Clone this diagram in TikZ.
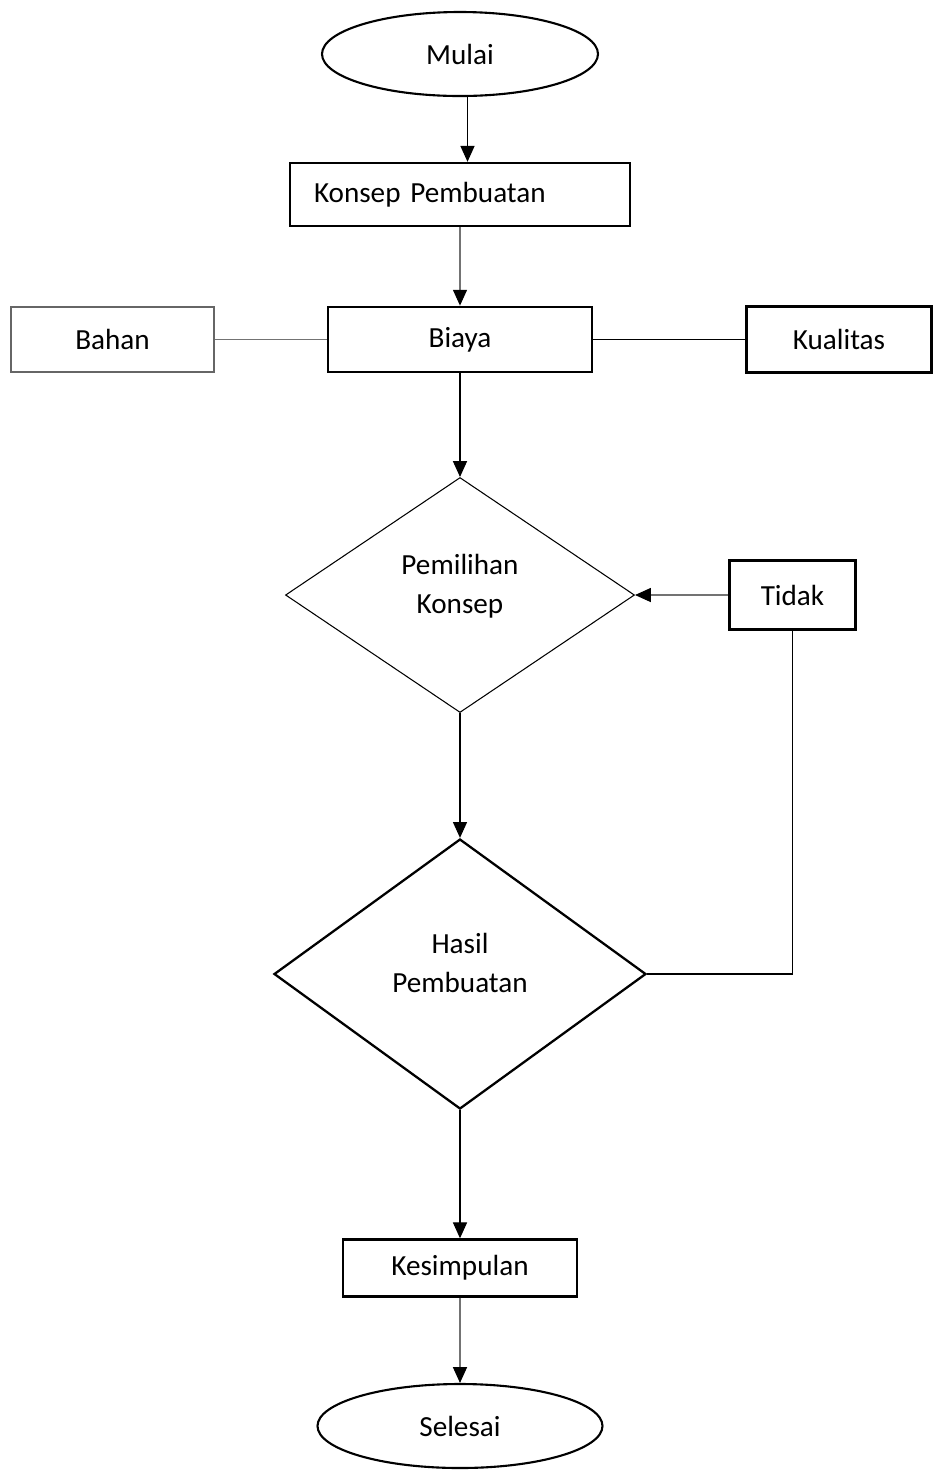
\documentclass[tikz,border=0pt]{standalone}
\usepackage{fontspec}
\setmainfont{Carlito}
\usepackage{tikz}
\usetikzlibrary{shapes,arrows.meta,positioning,calc}
\tikzset{
box/.style = {draw, fill=white, rectangle, line width=1.6pt, minimum height=1.3cm},
thinbox/.style = {draw=black!60, fill=white, rectangle, line width=0.6pt, minimum height=1.3cm},
terminal/.style = {draw, fill=white, ellipse, line width=1.2pt, minimum width=5.6cm, minimum height=1.68cm},
decision/.style = {draw, fill=white, diamond, align=center, text depth=0.45cm},
line/.style = {line width=0.6pt},
greyline/.style = {line width=0.6pt, draw=black!55},
every node/.style = {font=\fontsize{16.6}{22}\selectfont}
}
\begin{document}
\begin{tikzpicture}[auto, node distance=2cm, >={Triangle[length=9pt,width=8pt,color=black]}]
  \useasboundingbox (0,0) rectangle (18.72,-29.4);
  \node [terminal, minimum width=5.52cm]                                  (mulai)      at (9.2,-1.08) {Mulai};
  \node [box, below of=mulai, node distance=2.81cm, minimum width=6.8cm, minimum height=1.26cm,
         text width=5.84cm, inner xsep=0.48cm, align=left, line width=1.4pt] (konsep)   {Konsep Pembuatan};
  \node [box, below of=konsep, node distance=2.9cm, minimum width=5.28cm]  (biaya)     {Biaya};
  \node [thinbox, left of=biaya, node distance=6.95cm, minimum width=4.06cm] (bahan)   {Bahan};
  \node [box, right of=biaya, node distance=7.58cm, minimum width=3.7cm, minimum height=1.32cm] (kualitas) {Kualitas};
  \node [decision, below of=biaya, node distance=5.11cm, minimum width=6.98cm,
         minimum height=4.7cm, line width=0.6pt]                           (pilih)     {Pemilihan\\Konsep};
  \node [box, right of=pilih, node distance=6.65cm, minimum width=2.52cm, minimum height=1.38cm] (tidak) {Tidak};
  \node [decision, below of=pilih, node distance=7.58cm, minimum width=7.44cm,
         minimum height=5.4cm, line width=1.3pt]                           (hasil)     {Hasil\\Pembuatan};
  \node [box, below of=hasil, node distance=5.88cm, minimum width=4.68cm, minimum height=1.14cm,
         line width=1.4pt]                                                 (kesimpulan) {Kesimpulan};
  \node [terminal, below of=kesimpulan, node distance=3.16cm, minimum width=5.7cm] (selesai) {Selesai};

  \draw [->, line] ([xshift=0.15cm]mulai.south) -- ([xshift=0.15cm]konsep.north);
  \draw [->, greyline] (konsep) -- (biaya);
  \draw [greyline] (bahan) -- (biaya);
  \draw [line] (biaya) -- (kualitas);
  \draw [->, line] (biaya) -- (pilih);
  \draw [->, greyline] (tidak) -- (pilih);
  \draw [->, line] (pilih) -- (hasil);
  \draw [line] (hasil.east) -| (tidak.south);
  \draw [->, line] (hasil) -- (kesimpulan);
  \draw [->, greyline] (kesimpulan) -- (selesai);
\end{tikzpicture}
\end{document}
